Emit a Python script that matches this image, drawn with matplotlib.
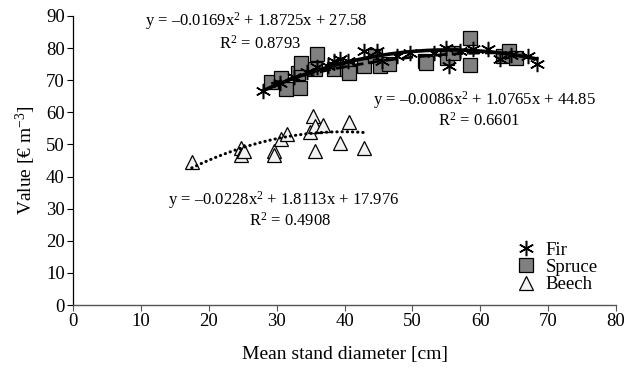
import numpy as np
import matplotlib
matplotlib.use("Agg")
import matplotlib.pyplot as plt

plt.rcParams['font.family'] = ['Liberation Serif', 'DejaVu Serif']
plt.rcParams['mathtext.fontset'] = 'custom'
plt.rcParams['mathtext.rm'] = 'Liberation Serif'
plt.rcParams['mathtext.it'] = 'Liberation Serif:italic'

# Data
fir_x = [28, 30.5, 32.5, 34.5, 36, 37.5, 38.5, 39.4, 40.5, 42.9, 44.8, 45.5, 47.8, 49.7,
         53.2, 55, 55.4, 57, 59, 61.2, 62.9, 64.5, 67.1, 68.3]
fir_y = [66.5, 69, 71, 72.5, 74, 74.5, 76, 76.7, 76, 79.2, 79.2, 76, 77.6, 78.6,
         78.6, 80.1, 74.5, 79, 79.8, 79.8, 76.7, 78, 77.6, 75.2]

spruce_x = [29.2, 30.6, 31.4, 33.1, 33.4, 33.6, 35.6, 36, 38.5, 40.4, 40.7, 42.9, 44.5,
            45.3, 46.6, 51.9, 52, 55.1, 56, 58.5, 58.5, 63.4, 64.3, 65.3]
spruce_y = [69.3, 70.8, 67.4, 72.4, 67.7, 75.5, 73.6, 78.3, 73.6, 73.6, 72.4, 74.5, 77.6,
            74.5, 75.2, 76, 75.5, 77, 78.5, 83, 74.8, 77.6, 79.2, 77]

beech_x = [17.5, 24.8, 24.8, 25.2, 29.6, 29.6, 30.6, 31.6, 34.9, 35.3, 35.6, 36.9, 35.6,
           40.6, 39.3, 42.9]
beech_y = [44.5, 48.8, 46.6, 48, 48, 46.6, 51.6, 53.4, 54, 59, 55.6, 55.9, 48,
           57, 50.6, 48.8]

# Trendline coefficients (as printed on chart): a, b, c for y = a x^2 + b x + c
fir_coef = [-0.0169, 1.8725, 27.58]
spruce_coef = [-0.0086, 1.0765, 44.85]
beech_coef = [-0.0228, 1.8113, 17.976]

fig = plt.figure(figsize=(6.27, 3.72), dpi=100)
ax = fig.add_axes([73/627, 67/372, 543/627, 289/372])

ax.plot(spruce_x, spruce_y, linestyle='none', marker='s', markersize=9.5,
        markerfacecolor='#808080', markeredgecolor='black', markeredgewidth=0.9,
        label='Spruce', zorder=3)
ax.plot(beech_x, beech_y, linestyle='none', marker='^', markersize=10.5,
        markerfacecolor='#f2f2f2', markeredgecolor='black', markeredgewidth=0.9,
        label='Beech', zorder=3)
ax.plot(fir_x, fir_y, linestyle='none', marker=(6, 2, 0), markersize=11,
        color='black', markeredgewidth=1.1, label='Fir', zorder=4)

def curve(coef, xs):
    xx = np.linspace(min(xs), max(xs), 200)
    return xx, np.polyval(coef, xx)

xx, yy = curve(fir_coef, fir_x)
ax.plot(xx, yy, color='black', lw=2.6, zorder=5)
xx, yy = curve(spruce_coef, spruce_x)
ax.plot(xx, yy, color='black', lw=2.0, linestyle=(0, (4, 2)), zorder=5)
xx, yy = curve(beech_coef, beech_x)
ax.plot(xx, yy, color='black', lw=2.2, linestyle=(0, (0.1, 1.6)),
        dash_capstyle='round', zorder=5)

fs = 12
ax.text(27.0, 88.3, 'y = –0.0169x$^{2}$ + 1.8725x + 27.58', ha='center', va='center', fontsize=fs)
ax.text(27.5, 81.5, 'R$^{2}$ = 0.8793', ha='center', va='center', fontsize=fs)
ax.text(60.6, 63.7, 'y = –0.0086x$^{2}$ + 1.0765x + 44.85', ha='center', va='center', fontsize=fs)
ax.text(59.8, 57.4, 'R$^{2}$ = 0.6601', ha='center', va='center', fontsize=fs)
ax.text(31.0, 32.6, 'y = –0.0228x$^{2}$ + 1.8113x + 17.976', ha='center', va='center', fontsize=fs)
ax.text(32.0, 26.2, 'R$^{2}$ = 0.4908', ha='center', va='center', fontsize=fs)

handles, labels = ax.get_legend_handles_labels()
order = [2, 0, 1]
ax.legend([handles[i] for i in order], [labels[i] for i in order],
          loc='upper left', bbox_to_anchor=(0.795, 0.245), frameon=False,
          fontsize=13.5, handletextpad=0.3, labelspacing=0.0, borderaxespad=0,
          handlelength=1.5)

ax.set_xlim(0, 80)
ax.set_ylim(0, 90)
ax.set_xticks(np.arange(0, 81, 10))
ax.set_yticks(np.arange(0, 91, 10))
ax.tick_params(labelsize=13.5, length=4, width=0.8, direction='out', pad=2)
ax.tick_params(axis='x', colors='#555555', labelcolor='black')
ax.spines['top'].set_visible(False)
ax.spines['right'].set_visible(False)
ax.spines['bottom'].set_color('#555555')
ax.spines['bottom'].set_linewidth(1.0)
ax.spines['left'].set_linewidth(0.9)
ax.set_xlabel('Mean stand diameter [cm]', fontsize=14, labelpad=11)
ax.set_ylabel('Value [€ m$^{-3}$]', fontsize=14, labelpad=6)

fig.savefig('out.png', dpi=100)
